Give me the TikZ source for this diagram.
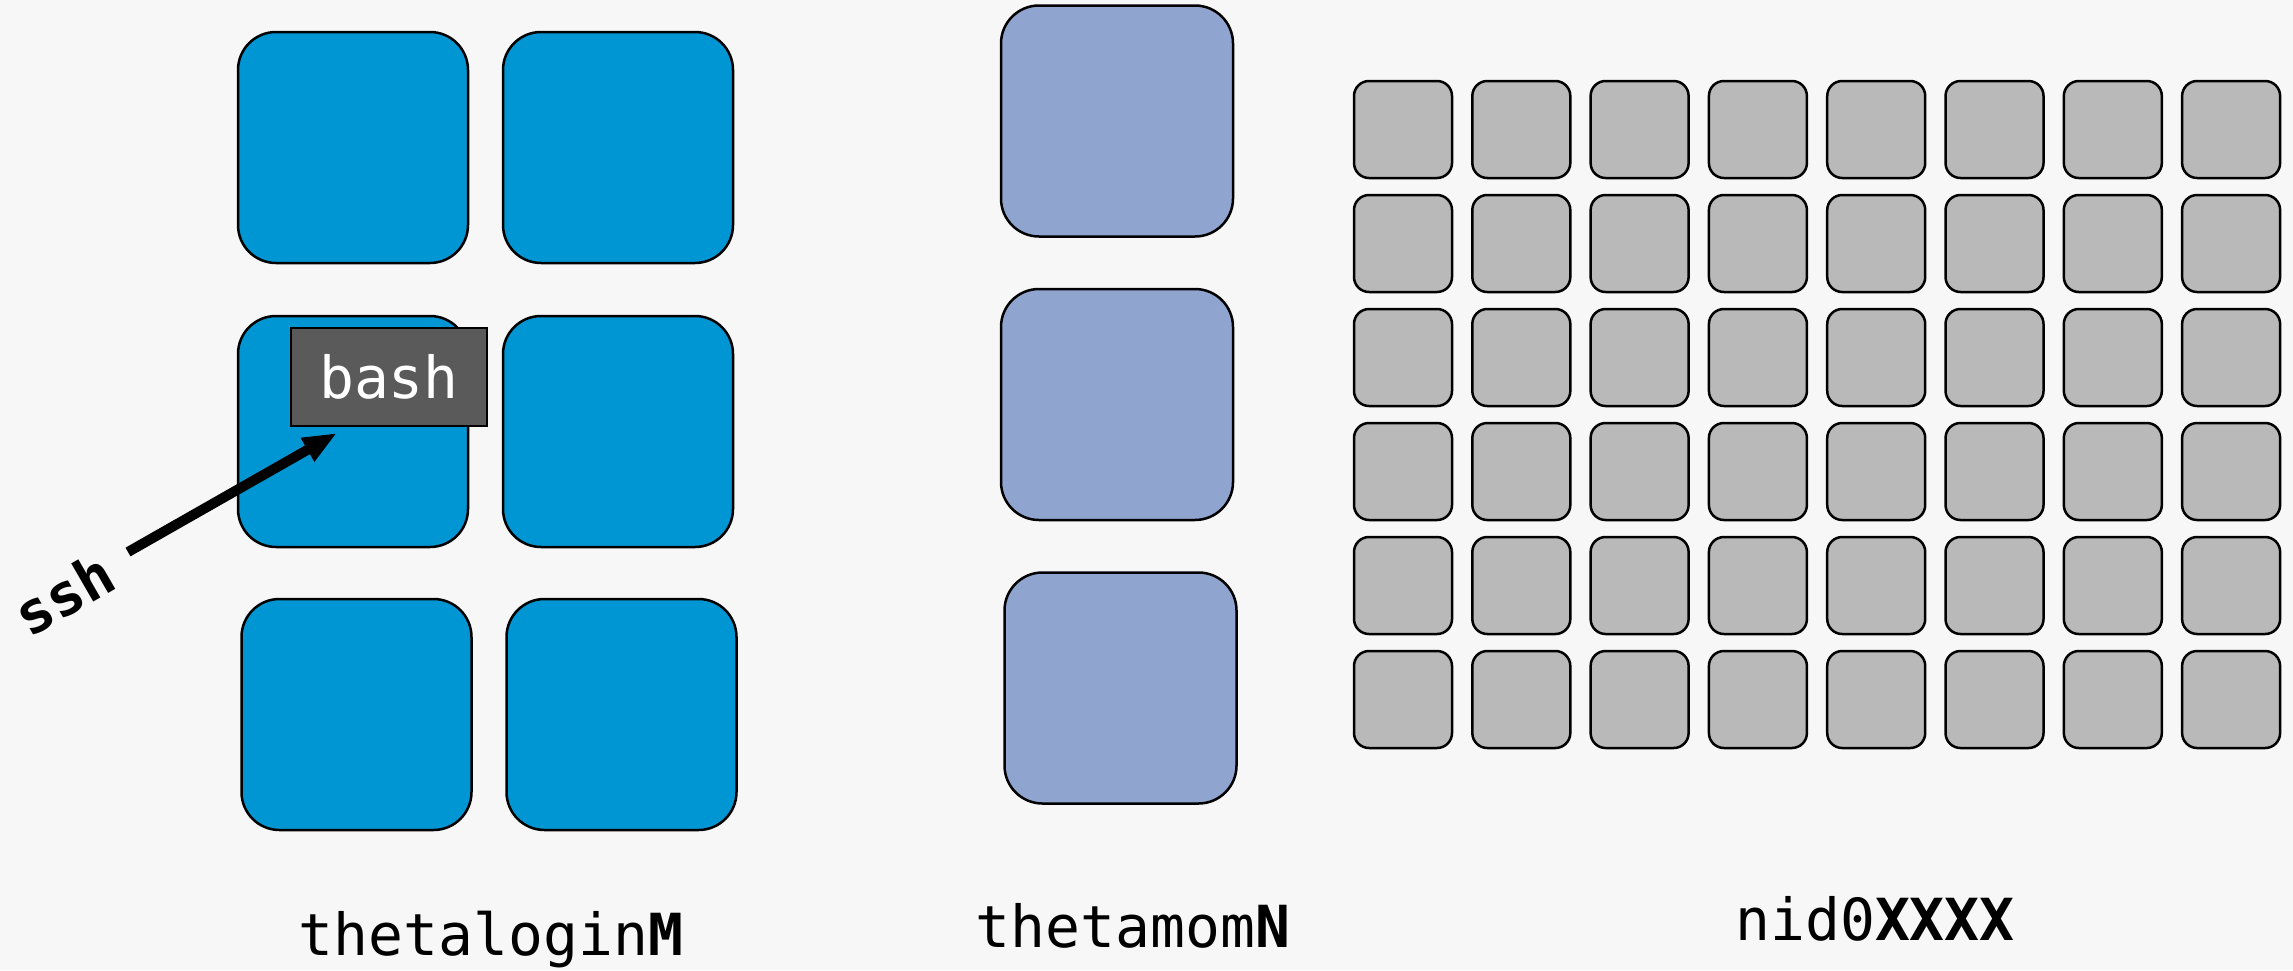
\documentclass[tikz,border=0pt]{standalone}
\usepackage{fontspec}
\setmonofont{DejaVu Sans Mono}
\usepackage{tikz}
\usetikzlibrary{arrows.meta}
\definecolor{PageBg}   {RGB}{247,247,247}
\definecolor{LoginFill}{RGB}{0,150,212}
\definecolor{MomFill}  {RGB}{143,164,206}
\definecolor{NidFill}  {RGB}{185,185,185}
\definecolor{BashFill} {RGB}{90,90,90}
\newcommand{\lblfont}{\fontsize{16.5pt}{20pt}\selectfont\ttfamily}
\tikzset{
  nd_login/.style={rectangle,rounded corners=3.8mm,draw=black,line width=0.25mm,fill=LoginFill,minimum width=2.3cm,minimum height=2.31cm,inner sep=0pt},
  nd_mom/.style={rectangle,rounded corners=3.8mm,draw=black,line width=0.25mm,fill=MomFill,minimum width=2.32cm,minimum height=2.31cm,inner sep=0pt},
  nd_nid/.style={rectangle,rounded corners=1.5mm,draw=black,line width=0.25mm,fill=NidFill,minimum width=0.98cm,minimum height=0.97cm,inner sep=0pt},
  nd_bash/.style={rectangle,draw=black,line width=0.2mm,fill=BashFill,minimum width=1.96cm,minimum height=0.98cm,inner sep=0pt,text=white,font=\lblfont},
  nd_lbl/.style={anchor=base,inner sep=0pt,font=\lblfont},
  arr/.style={-{Triangle[length=3.4mm,width=2.5mm]},line width=1mm},
}

\begin{document}
\begin{tikzpicture}[x=1cm,y=1cm]
\useasboundingbox (0,0) rectangle (22.93,-9.70);
\fill[PageBg] (0,0) rectangle (22.93,-9.70);
\def\lA{3.53}\def\lB{6.18}
% login nodes
\node[nd_login] (L1) at (\lA,-1.475){};
\node[nd_login] (L2) at (\lB,-1.475){};
\node[nd_login] (L3) at (\lA,-4.315){};
\node[nd_login] (L4) at (\lB,-4.315){};
\node[nd_login] (L5) at (3.565,-7.145){};
\node[nd_login] (L6) at (6.215,-7.145){};
% bash + ssh
\node[nd_bash] (B) at (3.89,-3.77){bash};
\coordinate (sshA) at (1.28,-5.52);
\coordinate (sshB) at (3.37,-4.33);
\draw[arr] (sshA)--(sshB);
\node[font=\lblfont\bfseries,rotate=30,inner sep=0pt] (ssh) at (0.64,-5.94){ssh};
% mom nodes
\node[nd_mom] (M1) at (11.17,-1.21){};
\node[nd_mom] (M2) at (11.17,-4.045){};
\node[nd_mom] (M3) at (11.205,-6.88){};
% compute nodes
\foreach \c in {0,...,7}{
  \foreach \r in {0,...,5}{
    \node[nd_nid] (N\c\r) at ({14.03+1.183*\c},{-1.295-1.14*\r}){};
  }
}
% labels
\node[nd_lbl] (tL) at (4.91,-9.55){thetalogin\textbf{M}};
\node[nd_lbl] (tM) at (11.33,-9.47){thetamom\textbf{N}};
\node[nd_lbl] (tN) at (18.75,-9.40){nid0\textbf{XXXX}};
\end{tikzpicture}
\end{document}
